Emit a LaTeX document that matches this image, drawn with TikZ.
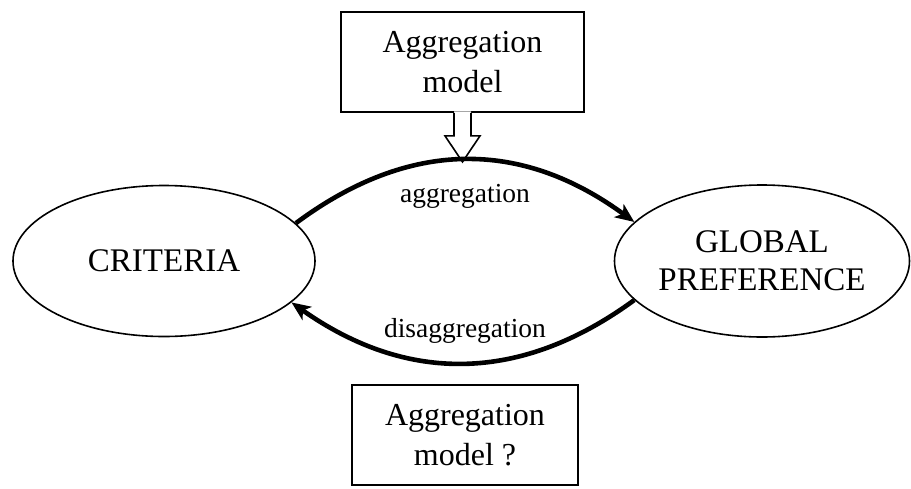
\documentclass[tikz,border=0pt]{standalone}
\usepackage{fontspec}
\setmainfont{Liberation Serif}
\usetikzlibrary{shapes.geometric,arrows.meta}
\tikzset{
  oval/.style={ellipse, draw, line width=1.6pt, inner sep=0pt, align=center,
    font=\fontsize{33}{38}\selectfont},
  modelbox/.style={rectangle, draw, line width=1.8pt, inner sep=0pt, align=center,
    font=\fontsize{32}{40}\selectfont},
  flow/.style={line width=4.6pt, -{Stealth[length=19pt,width=16pt,inset=5pt]}},
  flowlabel/.style={anchor=base, inner sep=0pt, font=\fontsize{27.5}{30}\selectfont},
  openarrow/.style={line width=1.6pt, line join=miter}
}
\begin{document}
\begin{tikzpicture}[x=1pt,y=-1pt]
\useasboundingbox (0,0) rectangle (911,488);
\node[oval, minimum width=302pt, minimum height=151pt] (crit) at (164,261) {CRITERIA};
\node[oval, minimum width=295pt, minimum height=152pt] (glob) at (762,261) {GLOBAL\\PREFERENCE};
\node[modelbox, minimum width=243pt, minimum height=100pt] (top) at (462.5,62) {Aggregation\\model};
\node[modelbox, minimum width=226pt, minimum height=100pt] (bot) at (465,435) {Aggregation\\model ?};
% open arrow from the top box
\begin{scope}[shift={(top.south)}]
  \fill[white] (-8.5,-1.5) -- (-8.5,23) -- (-17.5,23) -- (0,49) -- (17.5,23) -- (8.5,23) -- (8.5,-1.5) -- cycle;
  \draw[openarrow] (-8.5,0) -- (-8.5,23) -- (-17.5,23) -- (0,49) -- (17.5,23) -- (8.5,23) -- (8.5,0);
\end{scope}
% connectors
\draw[flow] (crit.16) .. controls (409,139) and (521,139) .. (glob.163);
\draw[flow] (glob.197) .. controls (521,383) and (407,384) .. (crit.342);
\node[flowlabel] (agg) at (465,202) {aggregation};
\node[flowlabel] (dis) at (465,337) {disaggregation};
\end{tikzpicture}
\end{document}
